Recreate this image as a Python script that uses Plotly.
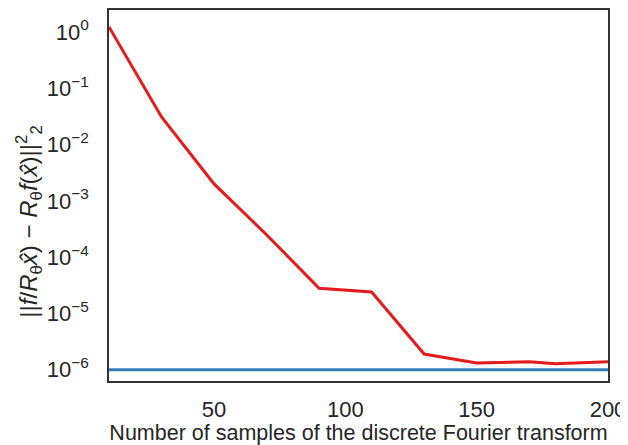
import plotly.graph_objects as go

# Data
samples = [10, 30, 50, 70, 90, 110, 130, 150, 170, 180, 200]
error_dft = [1.23, 0.031, 0.002, 2.5e-4, 2.8e-5, 2.4e-5, 1.9e-6, 1.32e-6, 1.38e-6, 1.28e-6, 1.38e-6]
baseline_x = [10, 200]
baseline_y = [1.0e-6, 1.0e-6]

y_tick_vals = [1, 1e-1, 1e-2, 1e-3, 1e-4, 1e-5, 1e-6]
y_tick_text = ["10<sup>0</sup>", "10<sup>\u22121</sup>", "10<sup>\u22122</sup>", "10<sup>\u22123</sup>",
               "10<sup>\u22124</sup>", "10<sup>\u22125</sup>", "10<sup>\u22126</sup>"]
x_tick_vals = [50, 100, 150, 200]

FONT = "Liberation Sans, Arial, sans-serif"

fig = go.Figure()
fig.add_trace(go.Scatter(x=baseline_x, y=baseline_y, mode="lines",
                         line=dict(color="#377eb8", width=3), showlegend=False))
fig.add_trace(go.Scatter(x=samples, y=error_dft, mode="lines",
                         line=dict(color="#e41a1c", width=3), showlegend=False))

# page body has an 8px margin, so the figure is 8px smaller than the window
fig.update_layout(
    width=620, height=437,
    margin=dict(l=101, r=20, t=2, b=64),
    paper_bgcolor="white", plot_bgcolor="white",
    font=dict(family=FONT, size=22, color="#262626"),
    xaxis=dict(
        range=[10, 200], tickvals=x_tick_vals, automargin=False,
        showgrid=False, zeroline=False,
        showline=True, mirror=True, linecolor="#333333", linewidth=1.5,
        ticks="outside", ticklen=8, tickcolor="rgba(0,0,0,0)",
        title=dict(text="Number of samples of the discrete Fourier transform",
                   font=dict(size=21.5), standoff=2),
    ),
    yaxis=dict(
        type="log", range=[-6.2, 0.39], automargin=False,
        tickvals=y_tick_vals, ticktext=y_tick_text,
        showgrid=False, zeroline=False,
        showline=True, mirror=True, linecolor="#333333", linewidth=1.5,
        ticks="outside", ticklen=14, tickcolor="rgba(0,0,0,0)",
    ),
)

fig.add_annotation(
    text="||<i>f</i>/<i>R</i><sub>\u03b8</sub><i>x\u0302</i>) \u2212 <i>R</i><sub>\u03b8</sub><i>f</i>(<i>x\u0302</i>)||<sup>2</sup><sub>2</sub>",
    xref="paper", yref="paper", x=-0.16, y=0.43,
    xanchor="center", yanchor="middle", textangle=-90, showarrow=False,
    font=dict(family=FONT, size=24, color="#262626"),
)

fig.write_html("out.html")
